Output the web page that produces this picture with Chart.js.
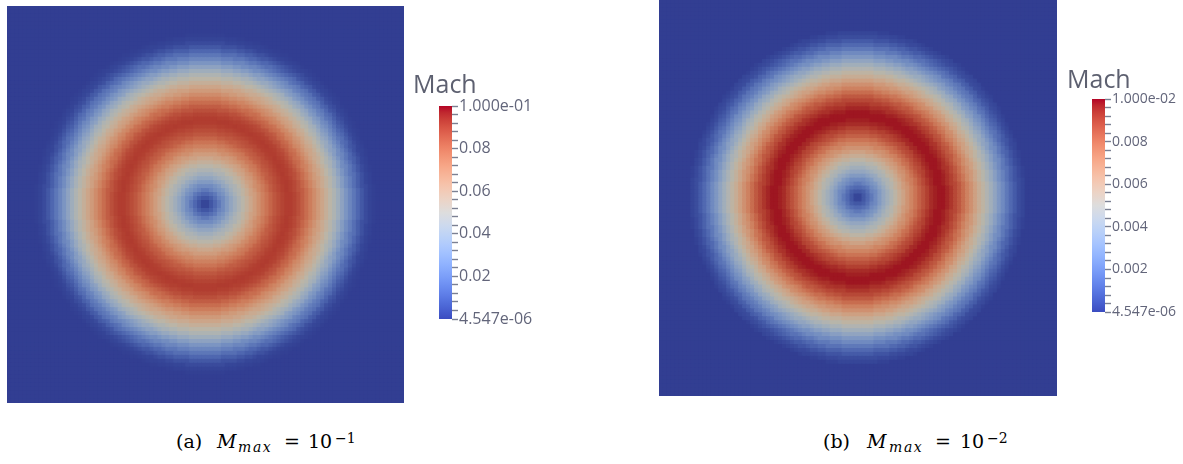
<!DOCTYPE html>
<html>
<head>
<meta charset="utf-8">
<script src="https://cdn.jsdelivr.net/npm/chart.js@4.4.0/dist/chart.umd.min.js"></script>
<style>
  html, body { margin: 0; padding: 0; background: #ffffff; }
  body { width: 1183px; height: 464px; position: relative; overflow: hidden; }
  .box { position: absolute; }
  .box canvas { display: block; }
  .bar-title { position: absolute; font-family: "Open Sans", sans-serif; font-size: 25px; line-height: 25px; color: #5d6070; }
  .cap span { position: absolute; font-family: "DejaVu Serif", serif; color: #000; white-space: nowrap; }
  .cap .main { font-size: 19px; line-height: 19px; top: 432px; }
  .cap .it { font-style: italic; }
  .cap .sub { font-size: 14px; line-height: 14px; top: 440px; font-style: italic; letter-spacing: 1.6px; }
  .cap .sup { font-size: 14px; line-height: 14px; top: 431px; }
</style>
</head>
<body>
<div class="box" style="left:7px;top:6px;width:397px;height:397px"><canvas id="fieldA"></canvas></div>
<div class="box" style="left:412px;top:60px;width:140px;height:280px"><canvas id="barA"></canvas></div>
<div class="bar-title" style="left:413px;top:71px">Mach</div>

<div class="box" style="left:659px;top:0px;width:398px;height:396px"><canvas id="fieldB"></canvas></div>
<div class="box" style="left:1065px;top:53px;width:118px;height:280px"><canvas id="barB"></canvas></div>
<div class="bar-title" style="left:1067px;top:66px">Mach</div>

<div class="cap">
  <span class="main" style="left:176px">(a)</span>
  <span class="main it" style="left:217px">M</span>
  <span class="sub" style="left:238px">max</span>
  <span class="main" style="left:284px">=</span>
  <span class="main" style="left:308px">10</span>
  <span class="sup" style="left:335px">−1</span>
</div>
<div class="cap">
  <span class="main" style="left:823px">(b)</span>
  <span class="main it" style="left:867px">M</span>
  <span class="sub" style="left:889px">max</span>
  <span class="main" style="left:935px">=</span>
  <span class="main" style="left:960px">10</span>
  <span class="sup" style="left:987px">−2</span>
</div>

<script>
// Mesh resolution of each square field (cells per side)
const GRID = 100;

// Mach number against distance from the vortex centre, sampled every half cell
const machProfileA = [
  0.000, 0.002, 0.004, 0.0065, 0.009, 0.0115, 0.014, 0.017, 0.020, 0.023,
  0.026, 0.029, 0.032, 0.0345, 0.037, 0.0395, 0.042, 0.0445, 0.047, 0.0495,
  0.052, 0.0545, 0.057, 0.0595, 0.062, 0.0645, 0.067, 0.0695, 0.072, 0.074,
  0.076, 0.078, 0.080, 0.082, 0.084, 0.0855, 0.087, 0.088, 0.089, 0.090,
  0.091, 0.0915, 0.092, 0.0915, 0.091, 0.090, 0.089, 0.0875, 0.086, 0.084,
  0.082, 0.080, 0.078, 0.0755, 0.073, 0.0705, 0.068, 0.0655, 0.063, 0.0605,
  0.058, 0.0555, 0.053, 0.0505, 0.048, 0.045, 0.042, 0.039, 0.036, 0.033,
  0.030, 0.027, 0.024, 0.0215, 0.019, 0.0165, 0.014, 0.0115, 0.009, 0.007,
  0.005, 0.0035, 0.002, 0.0015, 0.001, 0.0005, 0.000
];
const machProfileB = [
  0.0000, 0.0002, 0.0004, 0.0007, 0.0009, 0.0012, 0.0014, 0.0017, 0.0020, 0.0023,
  0.0026, 0.0029, 0.0032, 0.0035, 0.0037, 0.0040, 0.0043, 0.0045, 0.0048, 0.0051,
  0.0054, 0.0057, 0.0059, 0.0062, 0.0065, 0.0068, 0.0070, 0.0073, 0.0075, 0.0078,
  0.0080, 0.0083, 0.0085, 0.0087, 0.0089, 0.0091, 0.0093, 0.0095, 0.0096, 0.0097,
  0.0098, 0.0098, 0.0098, 0.0098, 0.0097, 0.0096, 0.0094, 0.0093, 0.0091, 0.0089,
  0.0087, 0.0085, 0.0082, 0.0080, 0.0077, 0.0074, 0.0071, 0.0069, 0.0066, 0.0063,
  0.0060, 0.0057, 0.0054, 0.0052, 0.0049, 0.0046, 0.0043, 0.0040, 0.0037, 0.0034,
  0.0031, 0.0028, 0.0025, 0.0023, 0.0020, 0.0017, 0.0015, 0.0012, 0.0010, 0.0008,
  0.0006, 0.0004, 0.0003, 0.0002, 0.0001, 0.0000
];

// Colour bar ranges and labelled ticks
const rangeA = [4.547e-06, 1.000e-01];
const rangeB = [4.547e-06, 1.000e-02];
const majorTicksA = [4.547e-06, 0.02, 0.04, 0.06, 0.08, 1.000e-01];
const majorLabelsA = ['4.547e-06', '0.02', '0.04', '0.06', '0.08', '1.000e-01'];
const majorTicksB = [4.547e-06, 0.002, 0.004, 0.006, 0.008, 1.000e-02];
const majorLabelsB = ['4.547e-06', '0.002', '0.004', '0.006', '0.008', '1.000e-02'];
const minorStepA = 0.004;
const minorStepB = 0.0004;

// Diverging "cool to warm" colour map
const coolWarm = [
  [59,76,192],[68,90,204],[77,104,215],[87,117,225],[98,130,234],[108,142,241],
  [119,154,247],[130,165,251],[141,176,254],[152,185,255],[163,194,255],[174,201,253],
  [184,208,249],[194,213,244],[204,217,238],[213,219,230],[221,221,221],[229,216,209],
  [236,211,197],[241,204,185],[245,196,173],[247,187,160],[247,177,148],[247,166,135],
  [244,154,123],[241,141,111],[236,127,99],[229,112,88],[222,96,77],[213,80,66],
  [203,62,56],[192,40,47],[180,4,38]
];

function mapColor(t) {
  t = Math.max(0, Math.min(1, t));
  const f = t * (coolWarm.length - 1);
  const i = Math.min(coolWarm.length - 2, Math.floor(f));
  const u = f - i;
  const a = coolWarm[i], b = coolWarm[i + 1];
  return [0, 1, 2].map(c => a[c] + (b[c] - a[c]) * u);
}

// Lit surface: the rendered field is a little darker than the legend
function shadedColor(t) {
  const c = mapColor(t);
  const r = Math.round(c[0] * 0.84), g = Math.round(c[1] * 0.82), b = Math.round(c[2] * 0.76);
  return `rgb(${r},${g},${b})`;
}

function buildField(canvasId, profile, range) {
  const labels = Array.from({ length: GRID }, (_, i) => i);
  const mid = (GRID - 1) / 2;
  const span = range[1] - range[0];
  const datasets = [];
  for (let row = 0; row < GRID; row++) {
    const colors = [];
    for (let col = 0; col < GRID; col++) {
      const idx = Math.round(2 * Math.hypot(col - mid, row - mid));
      const v = idx < profile.length ? profile[idx] : profile[profile.length - 1];
      colors.push(shadedColor((v - range[0]) / span));
    }
    datasets.push({ data: new Array(GRID).fill(1), backgroundColor: colors, stack: 'mesh' });
  }
  return new Chart(document.getElementById(canvasId), {
    type: 'bar',
    data: { labels, datasets },
    options: {
      animation: false,
      responsive: true,
      maintainAspectRatio: false,
      events: [],
      layout: { padding: 0 },
      plugins: { legend: { display: false }, tooltip: { enabled: false }, title: { display: false } },
      datasets: { bar: { barPercentage: 1, categoryPercentage: 1, borderWidth: 0, inflateAmount: 0.5 } },
      scales: {
        x: { display: false, stacked: true },
        y: { display: false, stacked: true, min: 0, max: GRID }
      }
    }
  });
}

function buildColorBar(canvasId, range, majors, majorLabels, minorStep, fontSize, axisWidth, pad) {
  const ticks = majors.slice();
  for (let k = 1; k * minorStep < range[1] - minorStep / 2; k++) {
    const v = k * minorStep;
    if (!majors.some(m => Math.abs(m - v) < minorStep / 10)) ticks.push(v);
  }
  ticks.sort((a, b) => a - b);
  const labelFor = v => {
    const idx = majors.findIndex(m => Math.abs(m - v) < minorStep / 10);
    return idx >= 0 ? majorLabels[idx] : '';
  };
  return new Chart(document.getElementById(canvasId), {
    type: 'bar',
    data: {
      labels: ['Mach'],
      datasets: [{
        data: [[range[0], range[1]]],
        borderWidth: 0,
        barPercentage: 1,
        categoryPercentage: 1,
        backgroundColor: (ctx) => {
          const chart = ctx.chart;
          if (!chart.chartArea) return '#888';
          const ys = chart.scales.y;
          const y0 = ys.getPixelForValue(range[0]);
          const y1 = ys.getPixelForValue(range[1]);
          const g = chart.ctx.createLinearGradient(0, y0, 0, y1);
          coolWarm.forEach((c, i) => g.addColorStop(i / (coolWarm.length - 1), `rgb(${c[0]},${c[1]},${c[2]})`));
          return g;
        }
      }]
    },
    options: {
      animation: false,
      responsive: true,
      maintainAspectRatio: false,
      events: [],
      layout: { padding: pad },
      plugins: { legend: { display: false }, tooltip: { enabled: false } },
      scales: {
        x: { display: false },
        y: {
          position: 'right',
          min: range[0],
          max: range[1],
          afterBuildTicks: (scale) => { scale.ticks = ticks.map(v => ({ value: v })); },
          afterFit: (scale) => { scale.width = axisWidth; },
          border: { display: false },
          grid: {
            drawOnChartArea: false,
            drawTicks: true,
            tickLength: 6,
            tickColor: '#7b8092',
            tickWidth: 1.4
          },
          ticks: {
            autoSkip: false,
            padding: 1,
            color: '#62657a',
            font: { family: '"Open Sans", sans-serif', size: fontSize },
            callback: (value) => labelFor(value)
          }
        }
      }
    }
  });
}

buildField('fieldA', machProfileA, rangeA);
buildField('fieldB', machProfileB, rangeB);
buildColorBar('barA', rangeA, majorTicksA, majorLabelsA, minorStepA, 16, 100, { left: 27, top: 46, bottom: 21, right: 0 });
buildColorBar('barB', rangeB, majorTicksB, majorLabelsB, minorStepB, 14, 78, { left: 27, top: 46, bottom: 21, right: 0 });
</script>
</body>
</html>
